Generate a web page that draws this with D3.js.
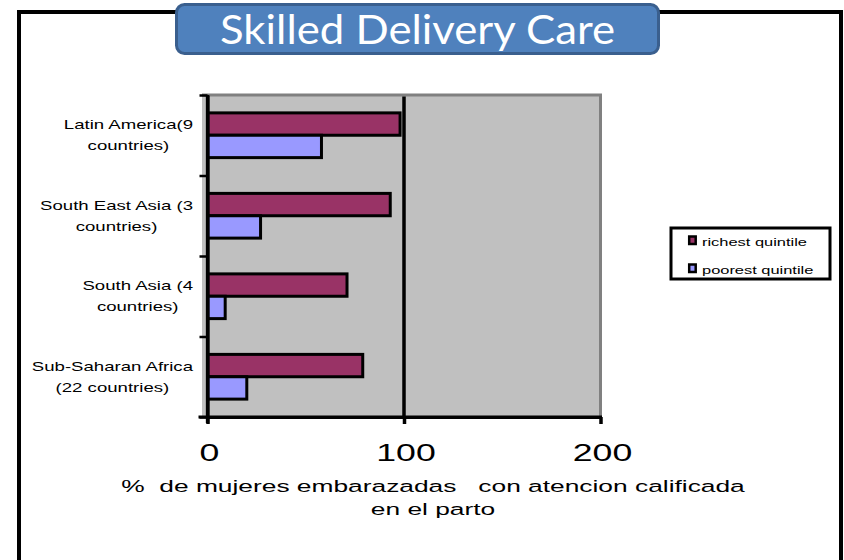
<!DOCTYPE html>
<html>
<head>
<meta charset="utf-8">
<script src="https://cdn.jsdelivr.net/npm/d3@7"></script>
<style>
  body { margin: 0; background: #fff; }
  text { font-family: "Liberation Sans", Arial, sans-serif; fill: #000; white-space: pre; }
</style>
</head>
<body>
<div id="chart"></div>
<script>
// Category labels (two lines each, as wrapped in the original)
const categories = ["Latin America", "South East Asia", "South Asia", "Sub-Saharan Africa"];
const categoryLines = [
    ["Latin America(9", "countries)"],
    ["South East Asia (3", "countries)"],
    ["South Asia (4", "countries)"],
    ["Sub-Saharan Africa", "(22 countries)"]
];
const seriesNames = ["richest quintile", "poorest quintile"];
const richest = [98, 93, 71, 79];
const poorest = [58, 27, 9, 20];
const xTicks = [0, 100, 200];
const colors = ["#993366", "#9999FF"];

const width = 844, height = 560;
const plot = { left: 207.5, right: 600.5, top: 95, bottom: 417 };
const SX = 1.55; // horizontal stretch of the original picture's text

const svg = d3.select("#chart")
    .append("svg")
    .attr("width", width)
    .attr("height", height);

// stretched text helper
function stext(g, x, y, str, size, anchor) {
    return g.append("text")
        .attr("transform", `translate(${x},${y}) scale(${SX},1)`)
        .attr("text-anchor", anchor || "start")
        .style("font-size", size + "px")
        .text(str);
}

// Outer frame (no bottom edge)
svg.append("path")
    .attr("d", "M19,560 V12 H841 V560")
    .attr("fill", "none")
    .attr("stroke", "#000")
    .attr("stroke-width", 4);

// Scales
const x = d3.scaleLinear().domain([0, 200]).range([plot.left, plot.right]);
const y = d3.scaleBand().domain(categories).range([plot.top, plot.bottom]);
const ySub = d3.scaleBand().domain(seriesNames).range([0, y.bandwidth()]).paddingOuter(0.8);
const yEdge = d3.scaleLinear().domain([0, categories.length]).range([plot.top, plot.bottom]);

// Plot area
svg.append("rect")
    .attr("x", plot.left - 5.5)
    .attr("y", plot.top)
    .attr("width", plot.right - plot.left + 5.5)
    .attr("height", plot.bottom - plot.top)
    .attr("fill", "#C0C0C0");
svg.append("path")
    .attr("d", `M${plot.left - 5.5},${plot.top} H${plot.right} V${plot.bottom}`)
    .attr("fill", "none")
    .attr("stroke", "#808080")
    .attr("stroke-width", 3);

// Gridline at 100
svg.append("line")
    .attr("x1", x(100)).attr("x2", x(100))
    .attr("y1", plot.top + 1.5).attr("y2", plot.bottom)
    .attr("stroke", "#000")
    .attr("stroke-width", 3.5);

// Bars
const rows = categories.map((c, i) => ({ cat: c, values: [richest[i], poorest[i]] }));
const groups = svg.append("g").selectAll("g")
    .data(rows)
    .enter().append("g")
    .attr("transform", d => `translate(0,${y(d.cat)})`);
groups.selectAll("rect")
    .data(d => d.values.map((v, j) => ({ name: seriesNames[j], v: v, j: j })))
    .enter().append("rect")
    .attr("x", x(0))
    .attr("y", d => ySub(d.name))
    .attr("width", d => x(d.v) - x(0))
    .attr("height", ySub.bandwidth())
    .attr("fill", d => colors[d.j])
    .attr("stroke", "#000")
    .attr("stroke-width", 3);

// Bottom axis
const xAxis = svg.append("g")
    .attr("transform", `translate(0,${plot.bottom})`)
    .call(d3.axisBottom(x).tickValues(xTicks).tickSizeInner(7).tickSizeOuter(0).tickFormat(""));
xAxis.select(".domain").attr("stroke-width", 3);
xAxis.selectAll(".tick line").attr("stroke-width", 3.5);
svg.append("line")
    .attr("x1", plot.left - 9).attr("x2", x(200) + 1.5)
    .attr("y1", plot.bottom).attr("y2", plot.bottom)
    .attr("stroke", "#000").attr("stroke-width", 3);

xTicks.forEach(t => stext(svg, x(t) + 2, 461, String(t), 23, "middle"));

// Left axis (ticks at category boundaries)
const yAxis = svg.append("g")
    .attr("transform", `translate(${plot.left},0)`)
    .call(d3.axisLeft(yEdge).ticks(categories.length).tickSizeInner(8).tickSizeOuter(0).tickFormat(""));
yAxis.select(".domain").attr("stroke-width", 3.3);
yAxis.selectAll(".tick line").attr("stroke-width", 2.5);
svg.append("line")
    .attr("x1", plot.left).attr("x2", plot.left)
    .attr("y1", plot.top).attr("y2", plot.bottom + 6)
    .attr("stroke", "#000").attr("stroke-width", 3.3);

// Category labels, centred block, right edge near the axis
categoryLines.forEach((lines, i) => {
    const cy = y(categories[i]) + y.bandwidth() / 2;
    const tmp = lines.map(l => stext(svg, 0, 0, l, 12, "middle"));
    const maxW = d3.max(tmp, t => t.node().getComputedTextLength()) * SX;
    tmp.forEach(t => t.remove());
    const cx = 193 - maxW / 2;
    lines.forEach((l, k) => stext(svg, cx, cy - 6 + k * 21, l, 12, "middle"));
});

// Axis title
stext(svg, 433, 492, "%  de mujeres embarazadas   con atencion calificada", 17, "middle");
stext(svg, 433, 515, "en el parto", 17, "middle");

// Legend
const legend = svg.append("g");
legend.append("rect")
    .attr("x", 671).attr("y", 228)
    .attr("width", 159).attr("height", 51)
    .attr("fill", "#fff")
    .attr("stroke", "#000")
    .attr("stroke-width", 3);
seriesNames.forEach((n, i) => {
    const yy = 236.5 + i * 28;
    legend.append("rect")
        .attr("x", 689.2).attr("y", yy)
        .attr("width", 6.5).attr("height", 7.5)
        .attr("fill", colors[i])
        .attr("stroke", "#000")
        .attr("stroke-width", 2.5);
    stext(legend, 702, yy + 9.5, n, 10.6);
});

// Title box
svg.append("rect")
    .attr("x", 176.5).attr("y", 4.5)
    .attr("width", 482).attr("height", 49)
    .attr("rx", 8)
    .attr("fill", "#4F81BD")
    .attr("stroke", "#3A5F8E")
    .attr("stroke-width", 3);
svg.append("text")
    .attr("x", 417.5).attr("y", 44)
    .attr("text-anchor", "middle")
    .attr("textLength", 395)
    .attr("lengthAdjust", "spacingAndGlyphs")
    .style("font-family", "Lato, 'Open Sans', sans-serif")
    .style("font-size", "40px")
    .style("fill", "#fff")
    .text("Skilled Delivery Care");
</script>
</body>
</html>
